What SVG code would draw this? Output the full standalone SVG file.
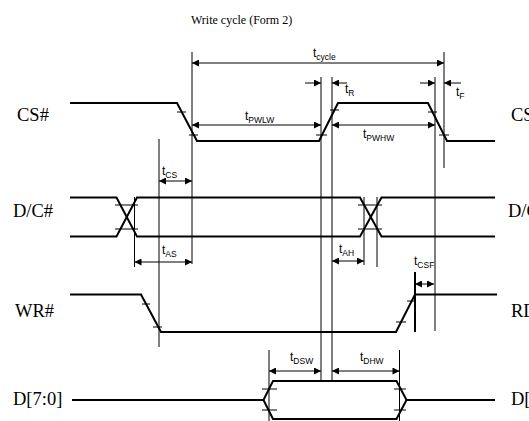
<svg xmlns="http://www.w3.org/2000/svg" width="529" height="421" viewBox="0 0 529 421">
<style>
.sig{fill:none;stroke:#000;stroke-width:2;stroke-linejoin:miter}
.tick{stroke:#000;stroke-width:1}
.ref{stroke:#000;stroke-width:1}
.arr{stroke:#000;stroke-width:1;fill:none}
.lbl{font-family:"Liberation Serif",serif;font-size:18.5px;fill:#000}
.title{font-family:"Liberation Serif",serif;font-size:12px;fill:#000}
.t{font-family:"Liberation Sans",Arial,sans-serif;font-size:12px;fill:#000}
.sub{font-size:8.5px}
</style>
<defs>
<marker id="ah" viewBox="0 0 10 10" refX="10" refY="5" markerWidth="9" markerHeight="7" markerUnits="userSpaceOnUse" orient="auto-start-reverse">
<path d="M0,0 L10,5 L0,10 z" fill="#000"/>
</marker>
</defs>
<rect width="529" height="421" fill="#fff"/>
<text class="title" x="191" y="24">Write cycle (Form 2)</text>

<g id="cs">
<text class="lbl" x="17" y="121">CS#</text>
<polyline class="sig" points="70,103 177,103 197,141 319,141 338,103 428,103 447,141 495,141"/>
<path class="tick" d="M177,112H186M189,135H198M330,110H339M316,135H327M428,112H437M439,135H449"/>
<text class="lbl" x="511" y="121">CS#</text>
</g>

<g id="dc">
<text class="lbl" x="13" y="217">D/C#</text>
<path class="sig" d="M70,197.5H116.5L137,236.5H360L381.5,197.5H495"/>
<path class="sig" d="M70,236.5H116.5L137,197.5H360L381.5,236.5H495"/>
<path class="tick" d="M115,205H138M115,229H138M358,205H382M358,229H382"/>
<text class="lbl" x="508" y="217">D/C#</text>
</g>

<g id="wr">
<text class="lbl" x="15" y="317">WR#</text>
<polyline class="sig" points="70,294.5 141,294.5 161,332 396,332 415,294.5 497,294.5"/>
<path class="tick" d="M142,304H150M153,327H162M396,322H406M407,301H416"/>
<text class="lbl" x="511" y="317">RD#</text>
</g>

<g id="data">
<text class="lbl" x="13" y="405">D[7:0]</text>
<path class="sig" d="M72,400H263.5L273,381H396.5L406.5,400H495M263.5,400L273,419H396.5L406.5,400"/>
<path class="tick" d="M262,389H277M262,410H277M394,389H406M394,410H406"/>
<text class="lbl" x="511" y="405">D[7:0]</text>
</g>

<g id="connectors">
<path class="ref" d="M159,139V347M192,52V264M134.5,197V267M321,77V381M332,77V381M364,197V265M377,197V267M435,77V331M444,52V168M269,350V421M399.5,350V421"/>
<path d="M415,272V332" stroke="#000" stroke-width="2"/>
<line class="arr" x1="192" y1="63" x2="444" y2="63" marker-start="url(#ah)" marker-end="url(#ah)"/>
<line class="arr" x1="305" y1="83" x2="321" y2="83" marker-end="url(#ah)"/>
<line class="arr" x1="347" y1="83" x2="332" y2="83" marker-end="url(#ah)"/>
<line class="arr" x1="420" y1="83" x2="435" y2="83" marker-end="url(#ah)"/>
<line class="arr" x1="461" y1="83" x2="444" y2="83" marker-end="url(#ah)"/>
<line class="arr" x1="192" y1="125" x2="321" y2="125" marker-start="url(#ah)" marker-end="url(#ah)"/>
<line class="arr" x1="332" y1="125" x2="435" y2="125" marker-start="url(#ah)" marker-end="url(#ah)"/>
<line class="arr" x1="159" y1="181" x2="192" y2="181" marker-start="url(#ah)" marker-end="url(#ah)"/>
<line class="arr" x1="134.5" y1="262" x2="192" y2="262" marker-start="url(#ah)" marker-end="url(#ah)"/>
<line class="arr" x1="332" y1="261" x2="364" y2="261" marker-start="url(#ah)" marker-end="url(#ah)"/>
<line class="arr" x1="415" y1="284" x2="434" y2="284" marker-start="url(#ah)" marker-end="url(#ah)"/>
<line class="arr" x1="269" y1="371" x2="321" y2="371" marker-start="url(#ah)" marker-end="url(#ah)"/>
<line class="arr" x1="332" y1="371" x2="399.5" y2="371" marker-start="url(#ah)" marker-end="url(#ah)"/>
</g>

<g id="labels">
<text class="t" x="313" y="57">t<tspan class="sub" dy="3">cycle</tspan></text>
<text class="t" x="345" y="93">t<tspan class="sub" dy="3">R</tspan></text>
<text class="t" x="456" y="96">t<tspan class="sub" dy="3">F</tspan></text>
<text class="t" x="245" y="120">t<tspan class="sub" dy="3">PWLW</tspan></text>
<text class="t" x="363" y="138">t<tspan class="sub" dy="3">PWHW</tspan></text>
<text class="t" x="162" y="175">t<tspan class="sub" dy="3">CS</tspan></text>
<text class="t" x="162" y="254">t<tspan class="sub" dy="3">AS</tspan></text>
<text class="t" x="339" y="253">t<tspan class="sub" dy="3">AH</tspan></text>
<text class="t" x="414" y="265">t<tspan class="sub" dy="3">CSF</tspan></text>
<text class="t" x="290" y="361">t<tspan class="sub" dy="3">DSW</tspan></text>
<text class="t" x="360" y="361">t<tspan class="sub" dy="3">DHW</tspan></text>
</g>
</svg>
